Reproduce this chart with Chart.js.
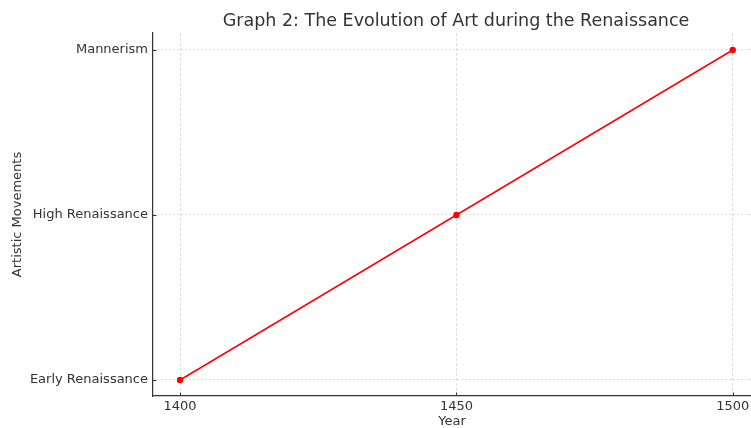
<!DOCTYPE html>
<html>
<head>
<meta charset="utf-8">
<script src="https://cdn.jsdelivr.net/npm/chart.js@4/dist/chart.umd.min.js"></script>
<style>
html,body{margin:0;padding:0;background:#fff;}
#wrap{width:751px;height:428px;position:relative;}
</style>
</head>
<body>
<div id="wrap"><canvas id="c" width="751" height="428"></canvas></div>
<script>
const years = [1400, 1450, 1500];
const movementLabels = ['Early Renaissance', 'High Renaissance', 'Mannerism'];
const movementValues = [0, 1, 2];
const xTicks = [1400, 1450, 1500];
const chartTitle = 'Graph 2: The Evolution of Art during the Renaissance';

const FONT = "'DejaVu Sans', sans-serif";
const TXT = '#333333';

const titlePlugin = {
  id: 'customTitle',
  afterDraw(chart) {
    const {ctx, chartArea} = chart;
    ctx.save();
    ctx.font = "17.5px " + FONT;
    ctx.fillStyle = TXT;
    ctx.textAlign = 'center';
    ctx.textBaseline = 'middle';
    ctx.fillText(chartTitle, (chartArea.left + chartArea.right) / 2 + 4, 21);
    ctx.restore();
  }
};

const innerTicks = {
  id: 'innerTicks',
  afterDraw(chart) {
    const {ctx, chartArea, scales} = chart;
    ctx.save();
    ctx.strokeStyle = '#333333';
    ctx.lineWidth = 1;
    ctx.beginPath();
    scales.x.ticks.forEach(t => {
      const px = Math.round(scales.x.getPixelForValue(t.value)) + 0.5;
      ctx.moveTo(px, chartArea.bottom);
      ctx.lineTo(px, chartArea.bottom - 3.5);
    });
    scales.y.ticks.forEach(t => {
      const py = Math.round(scales.y.getPixelForValue(t.value)) + 0.5;
      ctx.moveTo(chartArea.left, py);
      ctx.lineTo(chartArea.left + 3.5, py);
    });
    ctx.stroke();
    ctx.restore();
  }
};

new Chart(document.getElementById('c'), {
  type: 'line',
  data: {
    datasets: [{
      data: years.map((y, i) => ({x: y, y: movementValues[i]})),
      borderColor: '#ff0000',
      backgroundColor: '#ff0000',
      borderWidth: 1.5,
      pointRadius: 3.2,
      pointBorderWidth: 0,
      pointBackgroundColor: '#ff0000',
      tension: 0,
      clip: false
    }]
  },
  options: {
    responsive: false,
    animation: false,
    devicePixelRatio: 1,
    layout: {autoPadding: false, padding: {top: 33, right: 0, left: 0, bottom: 0}},
    plugins: {legend: {display: false}, tooltip: {enabled: false}, title: {display: false}},
    scales: {
      x: {
        type: 'linear',
        min: 1395.1,
        max: 1503.3,
        afterBuildTicks: s => { s.ticks = xTicks.map(v => ({value: v})); },
        afterFit: s => { s.height = 32; s.paddingRight = 0; s.paddingLeft = 0; },
        grid: {display: true, color: '#d4d4d4', lineWidth: 0.8, drawTicks: false},
        border: {display: true, color: '#333333', width: 1.2, dash: [3, 2]},
        ticks: {color: TXT, font: {family: FONT, size: 13}, padding: 3, maxRotation: 0,
                callback: v => String(v)},
        title: {display: true, text: 'Year', color: TXT, font: {family: FONT, size: 13, lineHeight: 1},
                padding: {top: 0, bottom: 0}}
      },
      y: {
        type: 'linear',
        min: -0.097,
        max: 2.103,
        afterBuildTicks: s => { s.ticks = movementValues.map(v => ({value: v})); },
        afterFit: s => { s.width = 153; s.paddingTop = 0; s.paddingBottom = 0; },
        grid: {display: true, color: '#d4d4d4', lineWidth: 0.8, drawTicks: false},
        border: {display: true, color: '#333333', width: 1.2, dash: [2, 2]},
        ticks: {color: TXT, font: {family: FONT, size: 13}, padding: 5,
                callback: v => movementLabels[v] !== undefined ? movementLabels[v] : ''},
        title: {display: true, text: 'Artistic Movements', color: TXT, font: {family: FONT, size: 13, lineHeight: 1},
                padding: {top: 11.5, bottom: 0}}
      }
    }
  },
  plugins: [titlePlugin, innerTicks]
});
</script>
</body>
</html>
